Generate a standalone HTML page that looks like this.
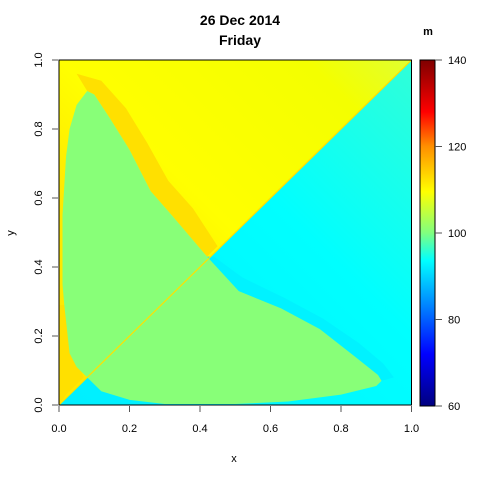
<!DOCTYPE html>
<html><head><meta charset="utf-8"><style>
body{margin:0;background:#fff;width:480px;height:480px;overflow:hidden}
svg{font-family:"Liberation Sans",sans-serif}
</style></head><body>
<svg width="480" height="480">
<defs>
<linearGradient id="cb" x1="0" y1="1" x2="0" y2="0">
<stop offset="0" stop-color="#00007f"/><stop offset="0.15" stop-color="#0000ff"/>
<stop offset="0.32" stop-color="#00a0ff"/><stop offset="0.42" stop-color="#00ffff"/>
<stop offset="0.5" stop-color="#80ff80"/><stop offset="0.62" stop-color="#ffff00"/>
<stop offset="0.75" stop-color="#ff9000"/><stop offset="0.85" stop-color="#ff0000"/>
<stop offset="1" stop-color="#7f0000"/></linearGradient>
<linearGradient id="yl" x1="0" y1="1" x2="1" y2="0">
<stop offset="0.3" stop-color="#ffe800"/><stop offset="0.5" stop-color="#ffff00"/><stop offset="0.85" stop-color="#f4ff00"/><stop offset="1" stop-color="#e0ff30"/></linearGradient>
<linearGradient id="cy" x1="0" y1="1" x2="1" y2="0">
<stop offset="0" stop-color="#00eeff"/><stop offset="0.6" stop-color="#00ffff"/><stop offset="1" stop-color="#30ffd8"/></linearGradient>
</defs>
<g id="plot"></g>
<text x="240" y="25" font-size="14" font-weight="bold" text-anchor="middle">26 Dec 2014</text>
<text x="240" y="45" font-size="14" font-weight="bold" text-anchor="middle">Friday</text>
<text x="234" y="462" font-size="11" text-anchor="middle">x</text>
<text x="14" y="233" font-size="11" text-anchor="middle" transform="rotate(-90 14 233)">y</text>
<text x="428" y="35" font-size="11" font-weight="bold" text-anchor="middle">m</text>
<rect x="420" y="60" width="15" height="346" fill="url(#cb)" stroke="#000"/>
</svg>
<script>
const xTicks=[0,0.2,0.4,0.6,0.8,1.0];
const yTicks=[0,0.2,0.4,0.6,0.8,1.0];
const cbTicks=[60,80,100,120,140];
const blobX=[0.08,0.05,0.03,0.015,0.01,0.01,0.02,0.03,0.05,0.08,0.1,0.145,0.2,0.26,0.32,0.42,0.51,0.63,0.74,0.84,0.905,0.915,0.9,0.8,0.65,0.5,0.3,0.2,0.12];
const blobY=[0.08,0.11,0.15,0.29,0.35,0.55,0.72,0.8,0.87,0.91,0.9,0.83,0.74,0.62,0.55,0.43,0.33,0.28,0.22,0.14,0.087,0.07,0.055,0.03,0.01,0.003,0.003,0.015,0.04];
const bandX=[0.08,0.1,0.145,0.2,0.26,0.32,0.42,0.45,0.38,0.31,0.25,0.19,0.12,0.05];
const bandY=[0.91,0.9,0.83,0.74,0.62,0.55,0.43,0.46,0.57,0.65,0.76,0.86,0.94,0.96];
const cyanX=[0.42,0.51,0.63,0.74,0.84,0.905,0.915,0.95,0.92,0.85,0.75,0.64,0.52,0.44];
const cyanY=[0.43,0.33,0.28,0.22,0.14,0.087,0.07,0.08,0.12,0.18,0.25,0.31,0.37,0.43];
const cbMin=60,cbMax=140;
const X=v=>59+v*352.5, Y=v=>405-v*345, C=v=>406-(v-cbMin)/(cbMax-cbMin)*346;
const ns="http://www.w3.org/2000/svg",svg=document.querySelector('svg'),g=document.getElementById('plot');
function mk(t,a,p){const e=document.createElementNS(ns,t);for(const k in a)e.setAttribute(k,a[k]);(p||g).appendChild(e);return e;}
function pts(xs,ys){return xs.map((x,i)=>X(x)+','+Y(ys[i])).join(' ');}
let e;
e=mk('polygon',{points:pts([0,0,1],[0,1,1]),fill:'url(#yl)'});

e=mk('polygon',{points:pts([0,1,1],[0,1,0]),fill:'url(#cy)'});

e=mk('polygon',{points:pts(bandX,bandY),fill:'#ffe000'});

e=mk('polygon',{points:pts([0,0.02,0.04,0.07,0.02,0],[0.29,0.29,0.15,0.08,0.03,0]),fill:'#ffe000'});

e=mk('polygon',{points:pts(cyanX,cyanY),fill:'#00f2ff'});

e=mk('polygon',{points:pts(blobX,blobY),fill:'#88ff78'});

e=mk('line',{x1:X(0),y1:Y(0),x2:X(1),y2:Y(1),stroke:'#ffe000','stroke-width':1.2});

e=mk('rect',{x:X(0),y:Y(1),width:X(1)-X(0),height:Y(0)-Y(1),fill:'none',stroke:'#000'});

xTicks.forEach(v=>{const x=X(v);
 e=mk('line',{x1:x,y1:Y(0)+1,x2:x,y2:Y(0)+7,stroke:'#555'},svg);
 
 e=mk('text',{x:x,y:432,'font-size':11,'text-anchor':'middle'},svg);e.textContent=v.toFixed(1);
 });
yTicks.forEach(v=>{const y=Y(v);
 e=mk('line',{x1:X(0)-7,y1:y,x2:X(0)-1,y2:y,stroke:'#555'},svg);
 
 e=mk('text',{x:42,y:y,'font-size':11,'text-anchor':'middle',transform:`rotate(-90 42 ${y})`},svg);e.textContent=v.toFixed(1);
 });
cbTicks.forEach(v=>{const y=C(v);
 e=mk('line',{x1:435,y1:y,x2:442,y2:y,stroke:'#555'},svg);
 
 e=mk('text',{x:448,y:y+4,'font-size':11},svg);e.textContent=v;
 });
</script>
</body></html>
